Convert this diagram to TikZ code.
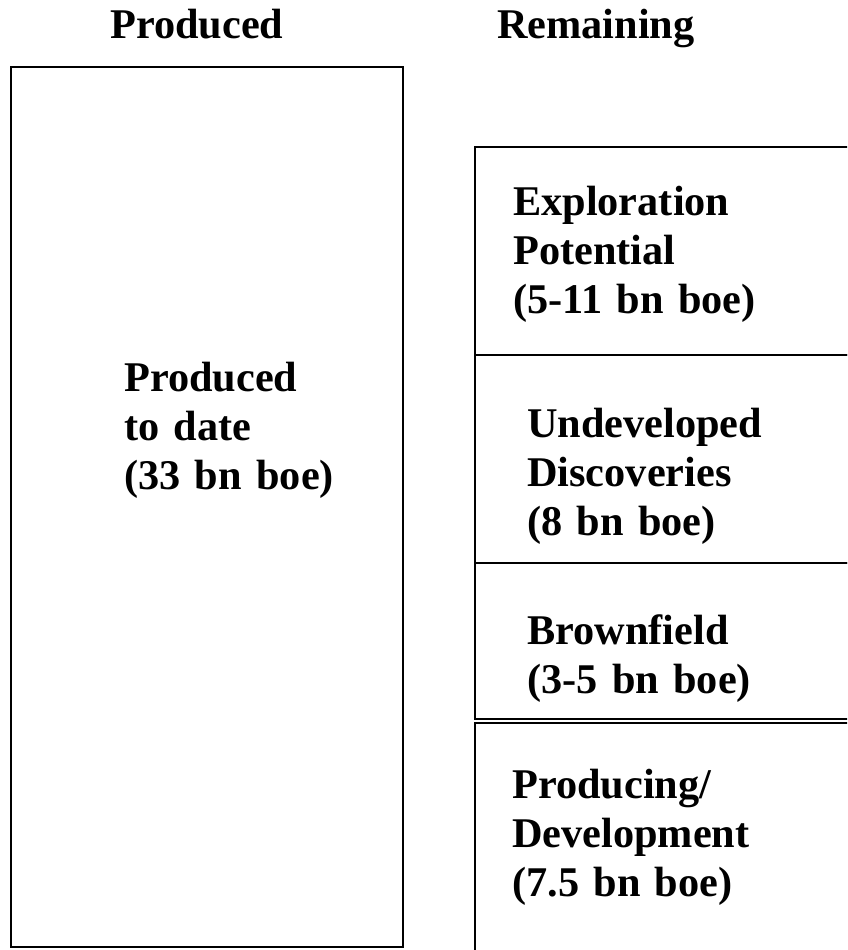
\documentclass[tikz,border=0pt]{standalone}
\usepackage{fontspec}
\setmainfont{Liberation Serif}
\newcommand{\lblfontset}{\bfseries\fontsize{42.3}{49}\selectfont\setlength{\spaceskip}{0.34em}}
\tikzset{
  box/.style={draw=black, line width=2.2pt},
  lbl/.style={anchor=base west, inner sep=0pt, align=left, font=\lblfontset},
}
\begin{document}
\begin{tikzpicture}[x=1pt,y=-1pt]
\useasboundingbox (0,0) rectangle (847,950);
\clip (0,0) rectangle (847,950);
% headers
\node[lbl] (hprod) at (110,38) {Produced};
\node[lbl] (hrem) at (497,38) {Remaining};
% left box
\draw[box] (11,67) rectangle (403,947);
\node[lbl] (ptd) at (124,489) {Produced\\to date\\(33 bn boe)};
% right boxes
\draw[box] (475,147) rectangle (870,355);
\draw[box] (475,355) rectangle (870,563);
\draw[box] (475,563) rectangle (870,719);
\draw[box] (475,723) rectangle (870,970);
\node[lbl] (explo) at (513,313) {Exploration\\Potential\\(5-11 bn boe)};
\node[lbl] (undev) at (527,535) {Undeveloped\\Discoveries\\(8 bn boe)};
\node[lbl] (brown) at (527,693) {Brownfield\\(3-5 bn boe)};
\node[lbl] (prodev) at (512,896) {Producing/\\Development\\(7.5 bn boe)};
\end{tikzpicture}
\end{document}
